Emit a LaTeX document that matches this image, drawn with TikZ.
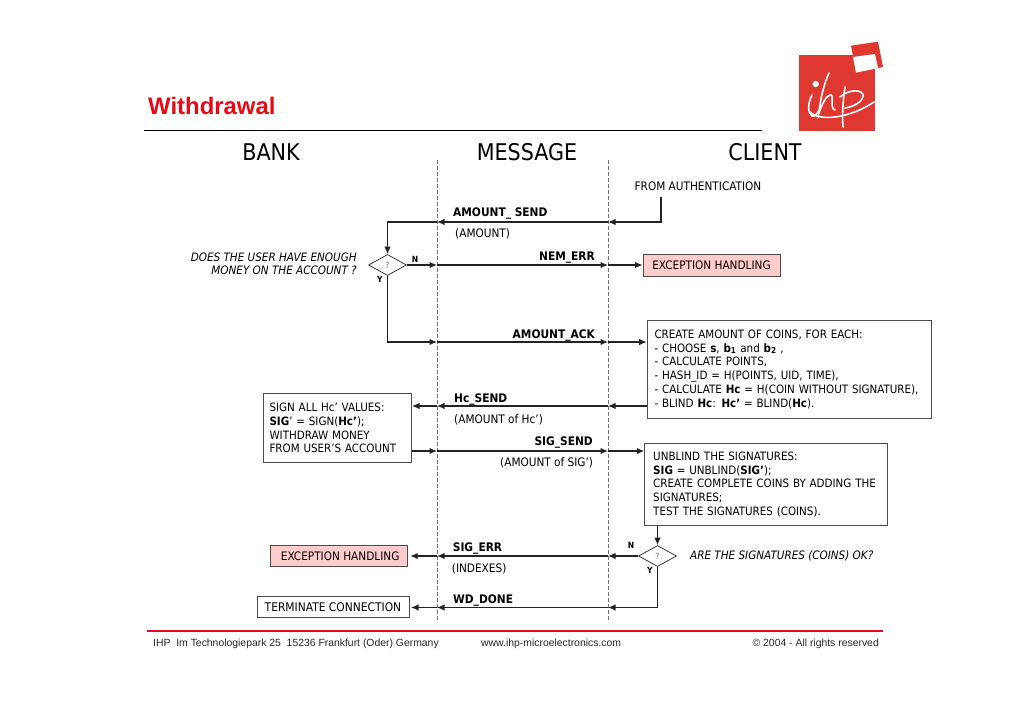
\documentclass[tikz,border=0pt]{standalone}
\usepackage{fontspec}
\setmainfont{DejaVu Sans Condensed}
\newfontfamily\arialfont{Liberation Sans}
\usetikzlibrary{arrows.meta, shapes.geometric}
\definecolor{ihpred}{RGB}{222,56,49}
\definecolor{titlered}{RGB}{230,10,20}
\definecolor{excfill}{RGB}{255,204,204}
\definecolor{linegray}{RGB}{35,35,35}
\tikzset{
    head/.style={font=\fontsize{23}{26}\selectfont},
    body/.style={font=\fontsize{11.7}{13.8}\selectfont, inner sep=0pt},
    msg/.style={font=\fontsize{11.8}{13}\bfseries\selectfont, inner sep=0pt, anchor=base west},
    msgr/.style={msg, anchor=base east},
    note/.style={body, anchor=base west},
    ask/.style={font=\fontsize{11.6}{13}\itshape\selectfont, inner sep=0pt},
    yn/.style={font=\fontsize{8.5}{9}\bfseries\selectfont, inner sep=0pt},
    box/.style={draw=black!70, fill=white, line width=1pt, align=left, anchor=north west, inner ysep=0pt, font=\fontsize{11.5}{13.8}\selectfont},
    exc/.style={draw=black!70, fill=excfill, line width=1pt, inner sep=0pt, font=\fontsize{11.7}{13}\selectfont},
    check/.style={diamond, draw=linegray, line width=0.7pt, inner sep=0pt, minimum width=38pt, minimum height=21pt, aspect=1.8, font=\rmfamily\fontsize{8.5}{9}\selectfont, text=black!60},
    flow/.style={-{Latex[length=7.5pt,width=6.5pt]}, line width=1.2pt, draw=linegray},
    life/.style={draw=black!55, line width=0.9pt, dash pattern=on 3.5pt off 2.5pt},
    foot/.style={font=\arialfont\fontsize{10.4}{13}\selectfont, inner sep=0pt, text=black!85, anchor=base west},
    script/.style={white, line width=1.6pt, line cap=round},
}
\begin{document}
\begin{tikzpicture}[x=1pt, y=-1pt]
        \useasboundingbox (0,0) rectangle (1024,724);

        % title and heads
        \node[font=\arialfont\fontsize{23.9}{26}\bfseries\selectfont, text=titlered, inner sep=0pt, anchor=base west] (title) at (148,114) {Withdrawal};
        \coordinate (ruleL) at (144,130);
        \coordinate (ruleR) at (762,130);
        \draw[line width=1pt] (ruleL) -- (ruleR);
        \node[head] (bank) at (271,152) {BANK};
        \node[head] (message) at (527,152) {MESSAGE};
        \node[head] (client) at (765,152) {CLIENT};

        % logo
        \fill[ihpred] (799,54.5) rectangle (875,130.5);
        \fill[ihpred] (851,45.7) -- (878,41.7) -- (883,67) -- (856,72.7) -- cycle;
        \fill[white] (853,57) -- (875,54) -- (878,68) -- (856,72.7) -- cycle;
        \fill[white] (815.7,84) circle (3.2pt);
        \draw[script] (812,95) .. controls (808,103) and (807,112) .. (812,116) .. controls (815,117) and (817,114) .. (819,110);
        \draw[script] (829,73) .. controls (824,84) and (820,100) .. (819,113) .. controls (822,104) and (826,96) .. (830,95) .. controls (835,94) and (829,108) .. (835,110);
        \draw[script] (845,87) .. controls (843,100) and (842,115) .. (843,127);
        \draw[script] (840,97) .. controls (850,88) and (864,90) .. (863,96) .. controls (862,103) and (852,107) .. (845,108);
        \draw[script] (810,112) .. controls (820,122) and (850,118) .. (874,102);

        % lifelines
        \coordinate (bankT) at (437,160);
        \coordinate (bankB) at (437,622);
        \coordinate (cliT) at (608,160);
        \coordinate (cliB) at (608,622);
        \draw[life] (bankT) -- (bankB);
        \draw[life] (cliT) -- (cliB);

        % nodes
        \node[body] (from) at (698,186) {FROM AUTHENTICATION};
        \node[check] (chk1) at (387.5,265) {?};
        \node[check] (chk2) at (657.5,556) {?};
        \node[exc, minimum width=137pt, minimum height=22pt] (exc1) at (711.5,265) {EXCEPTION HANDLING};
        \node[exc, minimum width=137pt, minimum height=21.5pt] (exc2) at (339.2,555.8) {\hspace*{2pt}EXCEPTION HANDLING};
        \node[box, inner xsep=7.3pt, minimum height=98pt, text width=269.4pt] (create) at (646.7,319.7) {CREATE AMOUNT OF COINS, FOR EACH:\\
            - CHOOSE \textbf{s}, \textbf{b\textsubscript{1}} and \textbf{b\textsubscript{2}} ,\\
            - CALCULATE POINTS,\\
            - HASH\_ID = H(POINTS, UID, TIME),\\
            - CALCULATE \textbf{Hc} = H(COIN WITHOUT SIGNATURE),\\
            - BLIND \textbf{Hc}: \textbf{Hc’} = BLIND(\textbf{Hc}).};
        \node[box, inner xsep=6.3pt, minimum height=69pt, text width=135.7pt] (sign) at (262.7,393) {SIGN ALL Hc’ VALUES:\\
            \textbf{SIG}’ = SIGN(\textbf{Hc’});\\
            WITHDRAW MONEY\\
            FROM USER’S ACCOUNT};
        \node[box, inner xsep=8.4pt, minimum height=82.3pt, text width=226.2pt] (unblind) at (644.3,442.7) {UNBLIND THE SIGNATURES:\\
            \textbf{SIG} = UNBLIND(\textbf{SIG’});\\
            CREATE COMPLETE COINS BY ADDING THE\\
            SIGNATURES;\\
            TEST THE SIGNATURES (COINS).};
        \node[box, align=center, inner xsep=0pt, minimum width=152pt, minimum height=21pt, anchor=center, font=\fontsize{11.9}{13}\selectfont] (term) at (333,607.3) {TERMINATE CONNECTION};

        % labels
        \node[msg] (lsend) at (453,216.7) {AMOUNT\_ SEND};
        \node[note] (lamount) at (455,237.5) {(AMOUNT)};
        \node[msgr] (lnem) at (595,260) {NEM\_ERR};
        \node[msgr] (lack) at (595,338) {AMOUNT\_ACK};
        \node[msg] (lhc) at (454,402) {Hc\_SEND};
        \node[note] (lhcn) at (454,423) {(AMOUNT of Hc’)};
        \node[msgr] (lsig) at (593,445) {SIG\_SEND};
        \node[note] (lsign) at (500,466) {(AMOUNT of SIG’)};
        \node[msg] (lerr) at (452.7,551.7) {SIG\_ERR};
        \node[note] (lidx) at (451.7,572) {(INDEXES)};
        \node[msg] (ldone) at (453,603) {WD\_DONE};
        \node[ask, align=right, anchor=east] (ask1) at (357,264) {DOES THE USER HAVE ENOUGH\\MONEY ON THE ACCOUNT ?};
        \node[ask, anchor=base west] (ask2) at (690,559.5) {ARE THE SIGNATURES (COINS) OK?};
        \node[yn] (n1) at (415,259) {N};
        \node[yn] (y1) at (380,279) {Y};
        \node[yn] (n2) at (631,545) {N};
        \node[yn] (y2) at (650,570) {Y};

        % footer
        \coordinate (footL) at (147,631);
        \coordinate (footR) at (883,631);
        \draw[titlered, line width=1.2pt] (footL) -- (footR);
        \node[foot] (addr) at (153,646) {IHP\ \ Im Technologiepark 25\ \ 15236 Frankfurt (Oder) Germany};
        \node[foot] (web) at (481,646) {www.ihp-microelectronics.com};
        \node[foot, anchor=base east] (copy) at (879,646) {© 2004 - All rights reserved};

        % AMOUNT_SEND
        \coordinate (authout) at (661,197);
        \coordinate (sendR) at (608,222);
        \coordinate (sendL) at (437,222);
        \draw[flow] (authout) |- (sendR);
        \draw[flow] (sendR) -- (sendL);
        \draw[flow] (sendL) -| (chk1.north);

        % NEM_ERR
        \coordinate (nemL) at (437,265);
        \coordinate (nemR) at (608,265);
        \draw[flow] (chk1.east) -- (nemL);
        \draw[flow] (nemL) -- (nemR);
        \draw[flow] (nemR) -- (exc1.west);

        % AMOUNT_ACK
        \coordinate (ackL) at (437,342);
        \coordinate (ackR) at (608,342);
        \draw[flow] (chk1.south) |- (ackL);
        \draw[flow] (ackL) -- (ackR);
        \draw[flow] (ackR) -- (ackR -| create.west);

        % Hc_SEND
        \coordinate (hcL) at (437,406);
        \coordinate (hcR) at (608,406);
        \draw[flow] (hcR -| create.west) -- (hcR);
        \draw[flow] (hcR) -- (hcL);
        \draw[flow] (hcL) -- (hcL -| sign.east);

        % SIG_SEND
        \coordinate (sigL) at (437,451);
        \coordinate (sigR) at (608,451);
        \draw[flow] (sigL -| sign.east) -- (sigL);
        \draw[flow] (sigL) -- (sigR);
        \draw[flow] (sigR) -- (sigR -| unblind.west);

        % test of the signatures
        \draw[flow] (chk2.north |- unblind.south) -- (chk2.north);

        % SIG_ERR
        \coordinate (errL) at (437,556);
        \coordinate (errR) at (608,556);
        \draw[flow] (chk2.west) -- (errR);
        \draw[flow] (errR) -- (errL);
        \draw[flow, shorten >=2pt] (errL) -- (errL -| exc2.east);

        % WD_DONE
        \coordinate (doneL) at (437,607.5);
        \coordinate (doneR) at (608,607.5);
        \draw[flow] (chk2.south) |- (doneR);
        \draw[flow] (doneR) -- (doneL);
        \draw[flow, shorten >=1.5pt] (doneL) -- (doneL -| term.east);

        \end{tikzpicture}
\end{document}
